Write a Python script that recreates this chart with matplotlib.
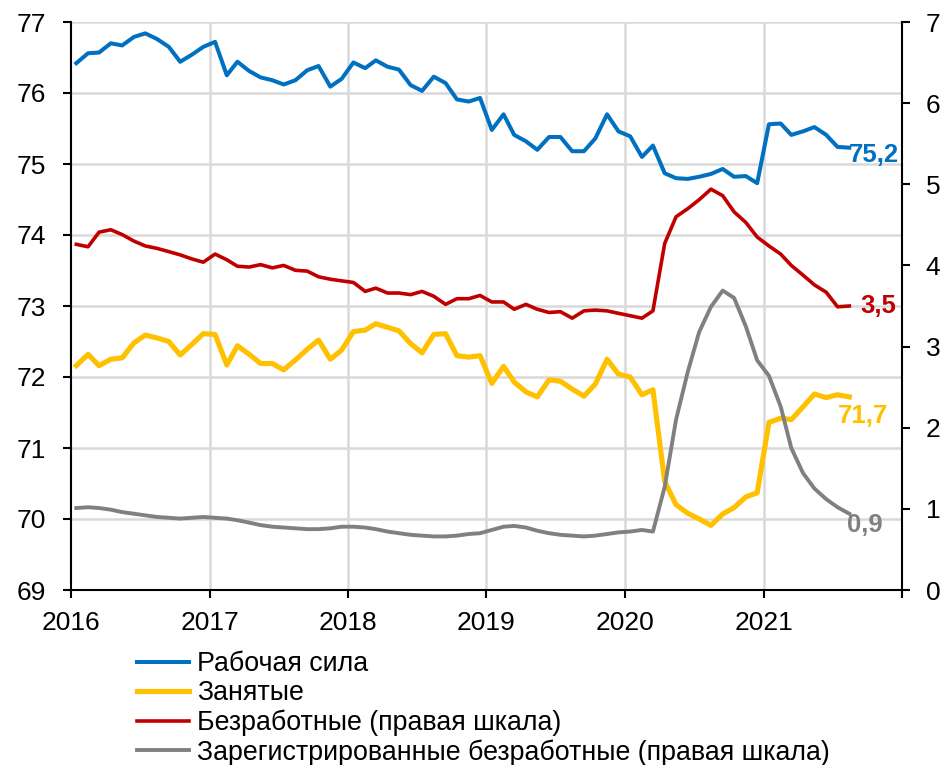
import matplotlib
matplotlib.use('Agg')
import matplotlib.pyplot as plt
import pandas as pd
from datetime import datetime

plt.rcParams['font.family'] = ['Liberation Sans', 'DejaVu Sans']

dates = pd.date_range('2016-01-01', periods=68, freq='MS') + pd.Timedelta(days=14)

labor_force = [
    76.42, 76.56, 76.57, 76.70, 76.67, 76.79, 76.84, 76.76, 76.65, 76.44, 76.54, 76.65,
    76.72, 76.25, 76.44, 76.31, 76.22, 76.18, 76.12, 76.18, 76.32, 76.38, 76.09, 76.20,
    76.43, 76.35, 76.46, 76.37, 76.33, 76.11, 76.03, 76.23, 76.14, 75.91, 75.88, 75.93,
    75.48, 75.70, 75.41, 75.32, 75.20, 75.38, 75.38, 75.18, 75.18, 75.36, 75.70, 75.46,
    75.39, 75.10, 75.26, 74.87, 74.80, 74.79, 74.82, 74.86, 74.93, 74.82, 74.83, 74.73,
    75.56, 75.57, 75.41, 75.46, 75.52, 75.41, 75.24, 75.23]

employed = [
    72.16, 72.32, 72.16, 72.25, 72.27, 72.48, 72.59, 72.55, 72.50, 72.31, 72.46, 72.61,
    72.60, 72.17, 72.44, 72.32, 72.19, 72.19, 72.10, 72.24, 72.39, 72.52, 72.25, 72.38,
    72.64, 72.66, 72.75, 72.70, 72.65, 72.47, 72.34, 72.60, 72.61, 72.30, 72.28, 72.30,
    71.91, 72.15, 71.93, 71.79, 71.72, 71.96, 71.94, 71.83, 71.73, 71.90, 72.25, 72.04,
    72.00, 71.75, 71.82, 70.53, 70.20, 70.08, 70.00, 69.91, 70.07, 70.16, 70.31, 70.37,
    71.36, 71.42, 71.40, 71.58, 71.76, 71.71, 71.75, 71.72]

unemployed = [
    4.26, 4.23, 4.41, 4.44, 4.38, 4.30, 4.24, 4.21, 4.17, 4.13, 4.08, 4.04,
    4.14, 4.07, 3.99, 3.98, 4.01, 3.97, 4.00, 3.94, 3.93, 3.86, 3.83, 3.81,
    3.79, 3.68, 3.72, 3.66, 3.66, 3.64, 3.68, 3.62, 3.52, 3.59, 3.59, 3.63,
    3.55, 3.55, 3.46, 3.52, 3.46, 3.42, 3.43, 3.35, 3.44, 3.45, 3.44, 3.41,
    3.38, 3.35, 3.44, 4.27, 4.60, 4.70, 4.81, 4.94, 4.86, 4.66, 4.53, 4.35,
    4.24, 4.14, 4.00, 3.88, 3.76, 3.67, 3.49, 3.50]

registered = [
    1.01, 1.02, 1.01, 0.99, 0.96, 0.94, 0.92, 0.90, 0.89, 0.88, 0.89, 0.90,
    0.89, 0.88, 0.86, 0.83, 0.80, 0.78, 0.77, 0.76, 0.75, 0.75, 0.76, 0.78,
    0.78, 0.77, 0.75, 0.72, 0.70, 0.68, 0.67, 0.66, 0.66, 0.67, 0.69, 0.70,
    0.74, 0.78, 0.79, 0.77, 0.73, 0.70, 0.68, 0.67, 0.66, 0.67, 0.69, 0.71,
    0.72, 0.74, 0.72, 1.27, 2.10, 2.69, 3.18, 3.49, 3.69, 3.60, 3.25, 2.83,
    2.64, 2.26, 1.75, 1.44, 1.25, 1.12, 1.02, 0.94]

labels = ['Рабочая сила', 'Занятые', 'Безработные (правая шкала)',
          'Зарегистрированные безработные (правая шкала)']
end_labels = ['75,2', '71,7', '3,5', '0,9']
years = [2016, 2017, 2018, 2019, 2020, 2021, 2022]

BLUE, YELLOW, RED, GRAY = '#0070C0', '#FFC000', '#C00000', '#808080'

fig = plt.figure(figsize=(9.41, 7.65), dpi=100)
ax = fig.add_axes([71/941, 1-590/765, (902-71)/941, (590-22)/765])
ax2 = ax.twinx()

l1, = ax.plot(dates, labor_force, color=BLUE, lw=2.9, label=labels[0], solid_joinstyle='round')
l2, = ax.plot(dates, employed, color=YELLOW, lw=3.7, label=labels[1], solid_joinstyle='round')
l3, = ax2.plot(dates, unemployed, color=RED, lw=2.6, label=labels[2], solid_joinstyle='round')
l4, = ax2.plot(dates, registered, color=GRAY, lw=2.8, label=labels[3], solid_joinstyle='round')

ax.set_ylim(69, 77)
ax2.set_ylim(0, 7)
ax.set_yticks(range(69, 78))
ax2.set_yticks(range(0, 8))
ax.set_xlim(datetime(2016, 1, 1), datetime(2022, 1, 1))
ax.set_xticks([datetime(y, 1, 1) for y in years])
ax.set_xticklabels(['2016', '2017', '2018', '2019', '2020', '2021', ''])

ax.grid(axis='y', color='#D9D9D9', lw=1.8)
for y in years[1:-1]:
    ax.axvline(datetime(y, 1, 1), color='#D9D9D9', lw=1.8, zorder=0.5)
ax.set_axisbelow(True)

for a in (ax, ax2):
    a.spines['top'].set_visible(False)
    for s in a.spines.values():
        s.set_linewidth(1.5)
    a.tick_params(labelsize=19, width=1.5, length=6, direction='out')
ax.tick_params(axis='y', pad=12)
ax.tick_params(axis='x', pad=9)
ax2.tick_params(axis='y', pad=11)
ax2.spines['left'].set_visible(False)
ax2.spines['bottom'].set_visible(False)
ax.spines['right'].set_visible(False)

ax.annotate(end_labels[0], xy=(dates[-1], labor_force[-1]), xytext=(0, -5),
            textcoords='offset points', color=BLUE, fontsize=18.5, fontweight='bold',
            ha='left', va='center')
ax.annotate(end_labels[1], xy=(dates[-1], employed[-1]), xytext=(-8, -14),
            textcoords='offset points', color=YELLOW, fontsize=18.5, fontweight='bold',
            ha='left', va='center')
ax2.annotate(end_labels[2], xy=(dates[-1], unemployed[-1]), xytext=(8, 0),
             textcoords='offset points', color=RED, fontsize=18.5, fontweight='bold',
             ha='left', va='center')
ax2.annotate(end_labels[3], xy=(dates[-1], registered[-1]), xytext=(-2, -8),
             textcoords='offset points', color=GRAY, fontsize=18.5, fontweight='bold',
             ha='left', va='center')

fig.legend(handles=[l1, l2, l3, l4], loc='upper left',
           bbox_to_anchor=(137/941, 1-651/765), frameon=False, fontsize=19.3,
           handlelength=1.95, handletextpad=0.28, labelspacing=0.12, borderpad=0,
           borderaxespad=0)

fig.savefig('out.png', dpi=100)
